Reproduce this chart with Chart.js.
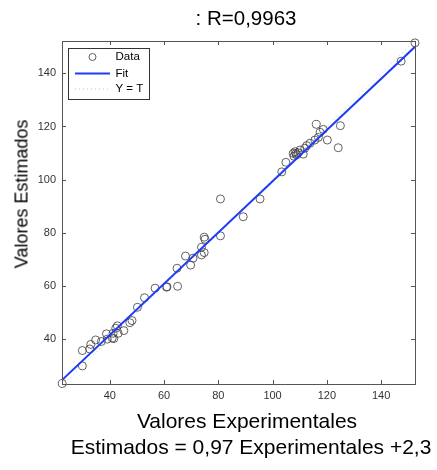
<!DOCTYPE html>
<html>
<head>
<meta charset="utf-8">
<script src="https://cdn.jsdelivr.net/npm/chart.js@4.4.1/dist/chart.umd.min.js"></script>
<style>
    body { margin: 0; background: #fff; }
    #wrap { position: relative; width: 437px; height: 470px; font-family: "Liberation Sans", Arial, sans-serif; color: #000; }
    canvas { position: absolute; left: 0; top: 0; }
    .lbl { position: absolute; white-space: nowrap; transform: translate(-50%, -50%); }
    #title { left: 246px; top: 18px; font-size: 20.5px; }
    #xlabel { left: 247px; top: 421px; font-size: 21px; }
    #ylabel { left: 22px; top: 194px; font-size: 18px; transform: translate(-50%, -50%) rotate(-90deg); }
    #eq { left: 251px; top: 447px; font-size: 21px; }
</style>
</head>
<body>
<div id="wrap">
    <canvas id="regChart" width="437" height="470"></canvas>
    <div class="lbl" id="title">: R=0,9963</div>
    <div class="lbl" id="ylabel">Valores Estimados</div>
    <div class="lbl" id="xlabel">Valores Experimentales</div>
    <div class="lbl" id="eq">Estimados = 0,97 Experimentales +2,3</div>
</div>
<script>
// ============================================
// DATA
// ============================================
const experimentales = [22.5, 29.9, 29.9, 32.6, 33.0, 34.8, 36.9, 38.8, 39.1, 40.9,
    41.5, 41.2, 42.2, 42.8, 43.1, 45.2, 47.4, 48.2, 50.2, 52.8,
    56.7, 60.9, 61.1, 65.0, 64.8, 67.9, 69.8, 70.7, 73.8, 73.8,
    74.8, 74.8, 75.1, 80.8, 80.8, 89.2, 95.4, 103.4, 104.9, 107.6,
    108.3, 108.9, 109.5, 110.1, 107.9, 108.6, 111.3, 111.9, 112.6, 113.8,
    115.6, 116.9, 116.1, 118.7, 117.5, 120.2, 124.2, 125.0, 147.4, 152.5];
const estimados = [23.2, 29.8, 35.6, 36.2, 37.9, 39.6, 39.0, 41.9, 39.9, 40.3,
    40.1, 42.1, 44.0, 44.9, 42.1, 43.1, 46.1, 46.9, 51.9, 55.5,
    59.1, 59.5, 59.6, 59.8, 66.6, 71.2, 67.8, 70.4, 74.5, 71.6,
    72.5, 78.3, 77.5, 78.8, 92.7, 86.0, 92.7, 102.9, 106.5, 109.9,
    110.5, 109.3, 110.1, 111.1, 108.8, 109.8, 109.6, 111.8, 112.8, 113.7,
    114.9, 115.9, 120.8, 118.9, 117.8, 114.9, 112.0, 120.3, 144.6, 151.5];

// fit line and Y = T line end points
const fitX = [22.4, 152.5];
const fitY = [24.5, 150.0];
const identX = [22.4, 152.5];
const identY = [22.4, 152.5];

const xTicks = [40, 60, 80, 100, 120, 140];
const yTicks = [40, 60, 80, 100, 120, 140];
const legendLabels = ['Data', 'Fit', 'Y = T'];

const FONT = '"Liberation Sans", Arial, sans-serif';
const toPoints = (xs, ys) => xs.map((x, i) => ({ x: x, y: ys[i] }));

// box round the plot, inward ticks and the legend
const framePlugin = {
    id: 'frame',
    afterDatasetsDraw(chart) {
        const ctx = chart.ctx;
        const a = chart.chartArea;
        const sx = chart.scales.x, sy = chart.scales.y;
        ctx.save();
        ctx.strokeStyle = '#555';
        ctx.lineWidth = 1;
        ctx.strokeRect(Math.round(a.left) + 0.5, Math.round(a.top) + 0.5,
            Math.round(a.right - a.left), Math.round(a.bottom - a.top));
        ctx.beginPath();
        xTicks.forEach(v => {
            const px = Math.round(sx.getPixelForValue(v)) + 0.5;
            ctx.moveTo(px, a.bottom); ctx.lineTo(px, a.bottom - 4);
            ctx.moveTo(px, a.top); ctx.lineTo(px, a.top + 4);
        });
        yTicks.forEach(v => {
            const py = Math.round(sy.getPixelForValue(v)) + 0.5;
            ctx.moveTo(a.left, py); ctx.lineTo(a.left + 4, py);
            ctx.moveTo(a.right, py); ctx.lineTo(a.right - 4, py);
        });
        ctx.stroke();

        // legend
        const lx = Math.round(a.left) + 6, ly = Math.round(a.top) + 7;
        const lw = 81, lh = 51;
        ctx.fillStyle = '#fff';
        ctx.fillRect(lx, ly, lw, lh);
        ctx.strokeStyle = '#333';
        ctx.strokeRect(lx + 0.5, ly + 0.5, lw, lh);
        const rows = [ly + 9, ly + 25.5, ly + 41];
        ctx.strokeStyle = 'rgba(70,70,70,0.85)';
        ctx.beginPath();
        ctx.arc(lx + 24.5, rows[0], 3.5, 0, Math.PI * 2);
        ctx.stroke();
        ctx.strokeStyle = '#1f3cf5';
        ctx.lineWidth = 2;
        ctx.beginPath();
        ctx.moveTo(lx + 7, rows[1]); ctx.lineTo(lx + 42, rows[1]);
        ctx.stroke();
        ctx.strokeStyle = '#c8c8c8';
        ctx.lineWidth = 1;
        ctx.setLineDash([1, 3]);
        ctx.beginPath();
        ctx.moveTo(lx + 7, rows[2]); ctx.lineTo(lx + 42, rows[2]);
        ctx.stroke();
        ctx.setLineDash([]);
        ctx.fillStyle = '#000';
        ctx.font = '11.5px ' + FONT;
        ctx.textBaseline = 'middle';
        legendLabels.forEach((t, i) => ctx.fillText(t, lx + 47.5, rows[i]));
        ctx.restore();
    }
};

const ctx = document.getElementById('regChart').getContext('2d');
const regChart = new Chart(ctx, {
    type: 'scatter',
    data: {
        datasets: [
            {
                label: legendLabels[0],
                data: toPoints(experimentales, estimados),
                pointStyle: 'circle',
                pointRadius: 4,
                borderColor: 'rgba(60,60,60,0.8)',
                backgroundColor: 'rgba(0,0,0,0)',
                borderWidth: 1,
                clip: false,
                order: 2
            },
            {
                label: legendLabels[1],
                type: 'line',
                data: toPoints(fitX, fitY),
                borderColor: '#1f3cf5',
                borderWidth: 2,
                pointRadius: 0,
                order: 0
            },
            {
                label: legendLabels[2],
                type: 'line',
                data: toPoints(identX, identY),
                borderColor: '#c8c8c8',
                borderDash: [1, 3],
                borderWidth: 1,
                pointRadius: 0,
                order: 1
            }
        ]
    },
    options: {
        responsive: false,
        animation: false,
        layout: { padding: { left: 0, top: 41, right: 22, bottom: 66 } },
        plugins: {
            legend: { display: false },
            title: { display: false },
            tooltip: { enabled: false }
        },
        scales: {
            x: {
                type: 'linear',
                min: 22.4,
                max: 152.5,
                grid: { display: false, drawTicks: false },
                border: { display: false },
                ticks: { font: { size: 11, family: FONT }, color: '#333', padding: 5, maxRotation: 0 },
                afterBuildTicks: s => { s.ticks = xTicks.map(v => ({ value: v })); },
                afterFit: s => { s.height = 20; }
            },
            y: {
                type: 'linear',
                min: 23.0,
                max: 152.2,
                grid: { display: false, drawTicks: false },
                border: { display: false },
                ticks: { font: { size: 11, family: FONT }, color: '#333', padding: 6 },
                afterBuildTicks: s => { s.ticks = yTicks.map(v => ({ value: v })); },
                afterFit: s => { s.width = 62; }
            }
        }
    },
    plugins: [framePlugin]
});
</script>
</body>
</html>
